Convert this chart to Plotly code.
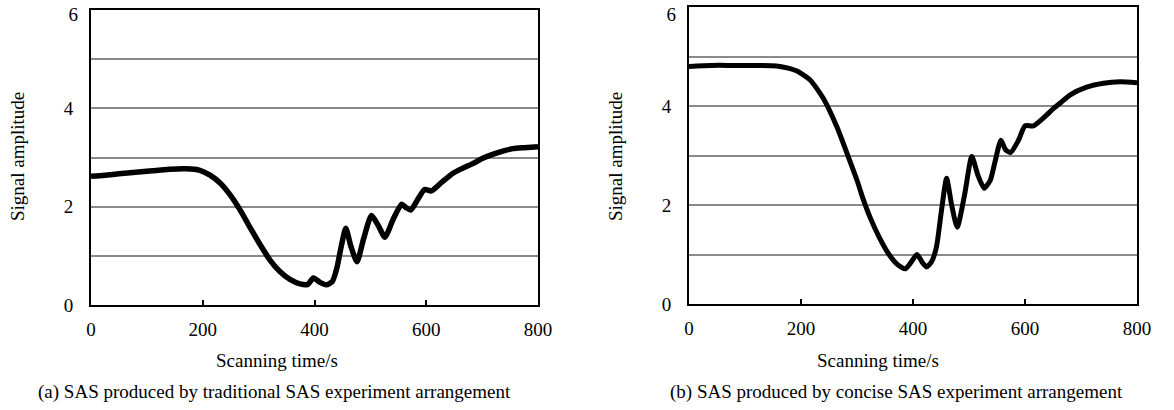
import plotly.graph_objects as go

W, H = 1174, 410

# (a) traditional arrangement
time_a = [0, 25, 50, 80, 110, 140, 170, 195, 213, 231, 249, 267, 284, 302, 320, 338, 356, 374, 388, 398,
          410, 421, 432, 440, 448, 456, 465, 476, 488, 502, 514, 526, 541, 556, 564, 572, 585, 597, 609,
          628, 648, 665, 684, 700, 720, 740, 755, 775, 800]
amp_a = [2.62, 2.64, 2.67, 2.70, 2.73, 2.76, 2.77, 2.74, 2.64, 2.48, 2.24, 1.93, 1.59, 1.24, 0.92, 0.68, 0.52,
         0.43, 0.42, 0.55, 0.46, 0.41, 0.48, 0.75, 1.20, 1.56, 1.20, 0.88, 1.35, 1.82, 1.62, 1.38, 1.75, 2.05,
         1.98, 1.93, 2.15, 2.35, 2.32, 2.50, 2.68, 2.78, 2.88, 2.98, 3.07, 3.14, 3.18, 3.20, 3.22]

# (b) concise arrangement
time_b = [0, 40, 80, 120, 156, 175, 192, 216, 240, 264, 282, 300, 311, 323, 340, 356, 372, 386, 397, 407,
          416, 424, 433, 442, 451, 460, 469, 479, 492, 505, 516, 527, 538, 546, 557, 565, 574, 588, 600, 615,
          635, 651, 665, 680, 710, 740, 770, 800]
amp_b = [4.80, 4.82, 4.82, 4.82, 4.81, 4.77, 4.71, 4.53, 4.15, 3.58, 3.05, 2.50, 2.12, 1.76, 1.34, 1.02, 0.80,
         0.71, 0.85, 1.00, 0.85, 0.75, 0.85, 1.16, 1.90, 2.54, 2.00, 1.55, 2.20, 2.98, 2.60, 2.34, 2.50, 2.85,
         3.31, 3.12, 3.06, 3.30, 3.60, 3.60, 3.78, 3.95, 4.08, 4.22, 4.38, 4.46, 4.49, 4.47]

x_ticks = [0, 200, 400, 600, 800]
y_grid = [0, 1, 2, 3, 4, 5, 6]
y_text = ["0", "", "2", "", "4", "", ""]
y_top_tick = [6]
y_top_text = ["6"]
x_title = "Scanning time/s"
y_title = "Signal amplitude"
captions = ["(a) SAS produced by traditional SAS experiment arrangement",
            "(b) SAS produced by concise SAS experiment arrangement"]

FONT = "Liberation Serif, Times New Roman, serif"

def px(x):
    return x / W

def py(y):
    return 1 - y / H

fig = go.Figure()
fig.add_trace(go.Scatter(x=time_a, y=amp_a, mode="lines", line=dict(color="black", width=5.5, shape="spline", smoothing=0.6),
                         xaxis="x", yaxis="y", showlegend=False))
fig.add_trace(go.Scatter(x=time_b, y=amp_b, mode="lines", line=dict(color="black", width=5, shape="spline", smoothing=0.6),
                         xaxis="x2", yaxis="y2", showlegend=False))
# empty traces so that the overlaying label axes get drawn
fig.add_trace(go.Scatter(x=[None], y=[None], mode="lines", xaxis="x", yaxis="y3", showlegend=False, hoverinfo="skip"))
fig.add_trace(go.Scatter(x=[None], y=[None], mode="lines", xaxis="x2", yaxis="y4", showlegend=False, hoverinfo="skip"))

def xax(domain, anchor):
    return dict(domain=domain, anchor=anchor, range=[0, 800], tickvals=x_ticks, ticks="inside", ticklen=5,
                tickwidth=2, tickcolor="black", showgrid=False, zeroline=False, showline=True, linecolor="black",
                linewidth=2, mirror=True, tickfont=dict(family=FONT, size=19, color="black"),
                ticklabelstandoff=6, ticklabeloverflow="allow", fixedrange=True, automargin=False)

def yax(domain, anchor):
    return dict(domain=domain, anchor=anchor, range=[0, 6], tickvals=y_grid, ticktext=y_text, ticks="",
                showgrid=True, gridcolor="#8a8a8a", gridwidth=1.5, zeroline=False, showline=True,
                linecolor="black", linewidth=2, mirror=True, tickfont=dict(family=FONT, size=19, color="black"),
                ticklabelstandoff=12, ticklabeloverflow="allow", fixedrange=True, automargin=False)

def ytop(overlay, anchor, shift):
    return dict(overlaying=overlay, anchor=anchor, side="left", range=[0, 6], tickvals=y_top_tick,
                ticktext=y_top_text, ticks="", showgrid=False, zeroline=False, showline=False,
                tickfont=dict(family=FONT, size=19, color="black"), ticklabelstandoff=12,
                ticklabelshift=shift, ticklabeloverflow="allow", fixedrange=True, automargin=False)

fig.update_layout(
    template="none",
    width=W, height=H, margin=dict(l=0, r=0, t=0, b=0, autoexpand=False),
    paper_bgcolor="white", plot_bgcolor="white",
    font=dict(family=FONT, color="black"),
    xaxis=xax([px(91), px(538)], "y"),
    yaxis=yax([py(305), py(10)], "x"),
    xaxis2=xax([px(689), px(1137)], "y2"),
    yaxis2=yax([py(304), py(7)], "x2"),
    yaxis3=ytop("y", "x", 4),
    yaxis4=ytop("y2", "x2", 7),
)

ann = []
for xc in (277, 878):
    ann.append(dict(x=px(xc), y=py(360), xref="paper", yref="paper", text=x_title, showarrow=False,
                    xanchor="center", yanchor="middle", font=dict(family=FONT, size=19, color="black")))
for xc in (17, 615):
    ann.append(dict(x=px(xc), y=py(157), xref="paper", yref="paper", text=y_title, showarrow=False,
                    textangle=-90, xanchor="center", yanchor="middle", font=dict(family=FONT, size=19, color="black")))
for xc, cap in zip((274, 896), captions):
    ann.append(dict(x=px(xc), y=py(392), xref="paper", yref="paper", text=cap, showarrow=False,
                    xanchor="center", yanchor="middle", font=dict(family=FONT, size=19, color="black")))
fig.update_layout(annotations=ann)

fig.write_html("out.html", config={"displayModeBar": False},
               post_script="document.body.style.margin='0';document.body.style.overflow='hidden';")
